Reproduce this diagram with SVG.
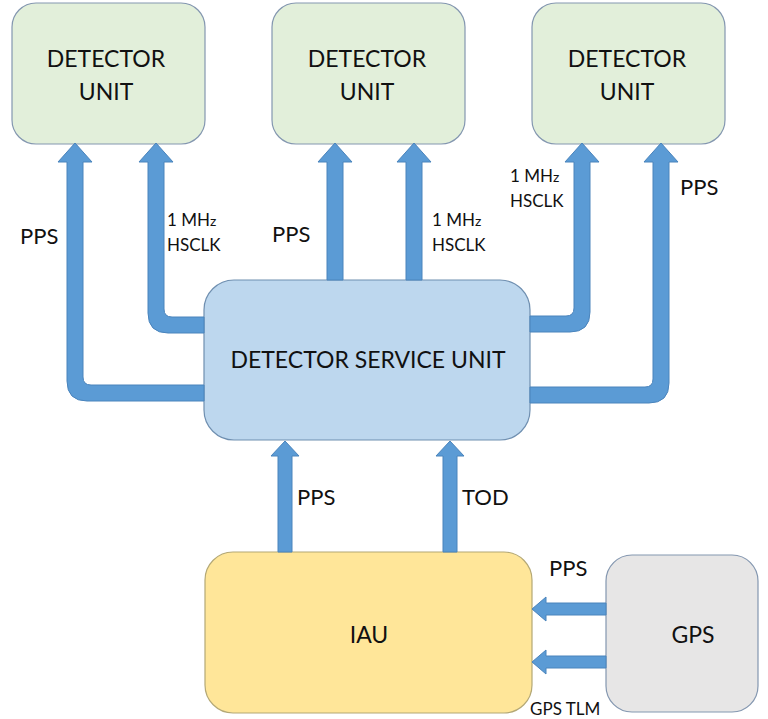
<svg xmlns="http://www.w3.org/2000/svg" width="768" height="719" viewBox="0 0 768 719">
<style>
.du{fill:#E2EFDA;stroke:#8497B0;stroke-width:1.2}
.dsu{fill:#BDD7EE;stroke:#6F8FB0;stroke-width:1.2}
.iau{fill:#FFE699;stroke:#B4A875;stroke-width:1.2}
.gps{fill:#E7E6E6;stroke:#8497B0;stroke-width:1.2}
.arr{fill:#5B9BD5;stroke:#4A84BC;stroke-width:1}
text{font-family:Lato,"Open Sans","Liberation Sans",sans-serif;fill:#111111}
.big{font-size:23px;text-anchor:middle}
.lbl{font-size:22px}
.sm{font-size:17px}
</style>
<rect width="768" height="719" fill="#ffffff"/>
<g id="du1"><rect class="du" x="12" y="3" width="193" height="141" rx="24"/><text class="big" x="106" y="67">DETECTOR</text><text class="big" x="106" y="100">UNIT</text></g>
<g id="du2"><rect class="du" x="272" y="3" width="193" height="141" rx="24"/><text class="big" x="367" y="67">DETECTOR</text><text class="big" x="367" y="100">UNIT</text></g>
<g id="du3"><rect class="du" x="532" y="3" width="193" height="141" rx="24"/><text class="big" x="627" y="67">DETECTOR</text><text class="big" x="627" y="100">UNIT</text></g>
<g id="dsu"><rect class="dsu" x="204" y="280" width="326" height="160" rx="30"/><text class="big" x="368" y="368">DETECTOR SERVICE UNIT</text></g>
<g id="iau"><rect class="iau" x="205" y="552" width="327" height="161" rx="28"/><text class="big" x="369" y="643">IAU</text></g>
<g id="gps"><rect class="gps" x="606" y="555" width="152" height="157" rx="26"/><text class="big" x="693" y="643">GPS</text></g>
<g id="connectors">
<path class="arr" d="M75 143 L92 162 L83 162 L83 377 Q83 385 91 385 L204 385 L204 401 L87 401 Q67 401 67 381 L67 162 L58 162 Z"/>
<path class="arr" d="M156 143 L173 162 L164 162 L164 309 Q164 317 172 317 L204 317 L204 333 L168 333 Q148 333 148 313 L148 162 L139 162 Z"/>
<path class="arr" d="M335 143 L352 162 L343 162 L343 280 L327 280 L327 162 L318 162 Z"/>
<path class="arr" d="M414 143 L431 162 L422 162 L422 280 L406 280 L406 162 L397 162 Z"/>
<path class="arr" d="M582 143 L599 162 L590 162 L590 312 Q590 332 570 332 L530 332 L530 316 L566 316 Q574 316 574 308 L574 162 L565 162 Z"/>
<path class="arr" d="M661 143 L678 162 L669 162 L669 383 Q669 403 649 403 L530 403 L530 387 L645 387 Q653 387 653 379 L653 162 L644 162 Z"/>
<path class="arr" d="M285 441 L299 456 L292 456 L292 552 L278 552 L278 456 L271 456 Z"/>
<path class="arr" d="M450 441 L464 456 L457 456 L457 552 L443 552 L443 456 L436 456 Z"/>
<path class="arr" d="M532 609 L546 597 L546 603 L606 603 L606 615 L546 615 L546 621 Z"/>
<path class="arr" d="M532 662 L546 650 L546 656 L606 656 L606 668 L546 668 L546 674 Z"/>
<text class="lbl" x="20" y="244">PPS</text>
<text class="sm" x="167" y="226">1 MH<tspan font-size="14">z</tspan></text>
<text class="sm" x="167" y="251">HSCLK</text>
<text class="lbl" x="272" y="242">PPS</text>
<text class="sm" x="432" y="226">1 MH<tspan font-size="14">z</tspan></text>
<text class="sm" x="432" y="251">HSCLK</text>
<text class="sm" x="510" y="182">1 MH<tspan font-size="14">z</tspan></text>
<text class="sm" x="510" y="207">HSCLK</text>
<text class="lbl" x="680" y="195">PPS</text>
<text class="lbl" x="297" y="505">PPS</text>
<text class="lbl" x="462" y="505">TOD</text>
<text class="lbl" x="549" y="576">PPS</text>
<text class="sm" x="530" y="715">GPS TLM</text>
</g>
</svg>
